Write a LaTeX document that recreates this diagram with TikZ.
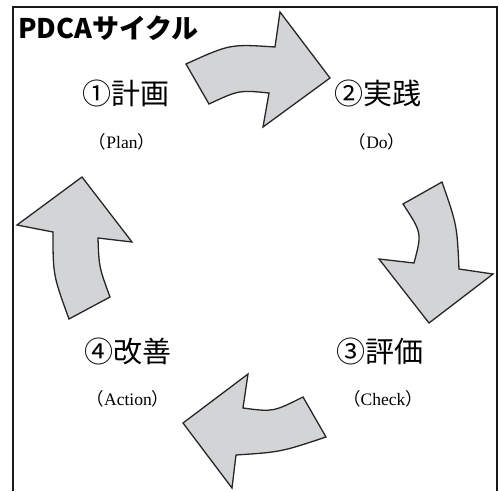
\documentclass[tikz,border=0pt]{standalone}
\usepackage{fontspec}
\setmainfont{Liberation Serif}
\newfontfamily\cjk{Noto Sans CJK JP}
\newcommand{\wrappar}[1]{{\cjk （}#1{\cjk ）}}
\definecolor{arrowgray}{HTML}{D3D4D6}
\tikzset{
  arrowshape/.style={draw=black!85, line width=1.3pt, fill=arrowgray, line join=miter},
  stagelabel/.style={font=\cjk\fontsize{29}{29}\selectfont, inner sep=0pt},
  sublabel/.style={font=\fontsize{17.5}{17.5}\selectfont, inner sep=0pt},
  titlelabel/.style={font=\cjk\bfseries\fontsize{27}{27}\selectfont, inner sep=0pt, anchor=west},
  framebox/.style={draw=black!90, line width=1.8pt}
}
\begin{document}
\begin{tikzpicture}[x=1pt,y=-1pt]
\useasboundingbox (0,0) rectangle (499,491);
% frame
\draw[framebox] (13,491) -- (13,7) -- (497,7) -- (497,491);
% title
\node[titlelabel] (title) at (18,28) {PDCAサイクル};
% top arrow (Plan -> Do)
\draw[arrowshape] (186,64) .. controls (230,44) .. (275,47) -- (280,12) -- (330,78) -- (263,127) -- (269,93) .. controls (239,90) .. (209,104) -- cycle;
% right arrow (Do -> Check)
\draw[arrowshape] (403,204) -- (442,182) .. controls (457,225) .. (459,269) -- (493,274) -- (429,323) -- (379,259) -- (414,263) .. controls (422,233) .. (403,204) -- cycle;
% bottom arrow (Check -> Action)
\draw[arrowshape] (303,397) -- (326,437) .. controls (281,452) .. (236,455) -- (232,488) -- (183,423) -- (248,374) -- (243,408) .. controls (273,412) .. (303,397) -- cycle;
% left arrow (Action -> Plan)
\draw[arrowshape] (69,319) -- (110,297) .. controls (99,267) .. (98,238) -- (132,242) -- (82,177) -- (17,225) -- (53,232) .. controls (53,275) .. (69,319) -- cycle;
% labels
\node[stagelabel] (plan) at (126,93) {①計画};
\node[sublabel] (plansub) at (122,142) {\wrappar{Plan}};
\node[stagelabel] (do) at (378,93) {②実践};
\node[sublabel] (dosub) at (377,142) {\wrappar{Do}};
\node[stagelabel] (check) at (380,351) {③評価};
\node[sublabel] (checksub) at (383,399) {\wrappar{Check}};
\node[stagelabel] (act) at (128,351) {④改善};
\node[sublabel] (actsub) at (128,399) {\wrappar{Action}};
\end{tikzpicture}
\end{document}
